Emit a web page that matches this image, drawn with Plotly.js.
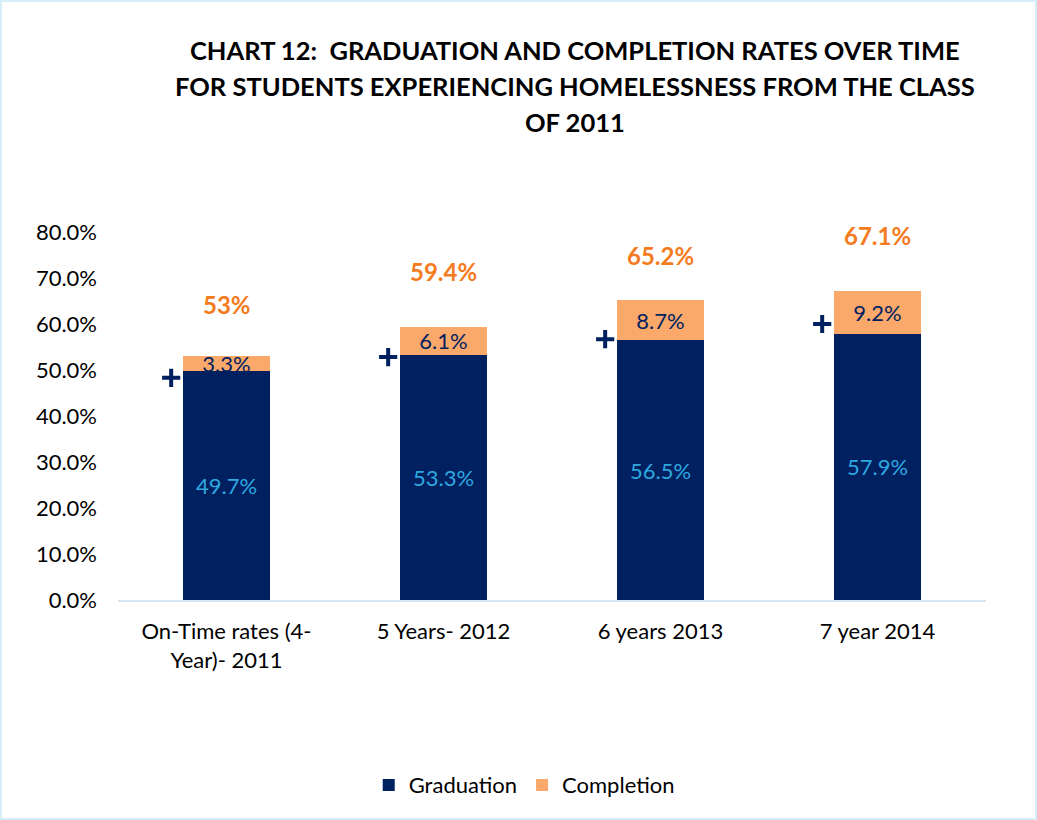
<!DOCTYPE html>
<html>
<head>
<meta charset="utf-8">
<script src="https://cdn.plot.ly/plotly-3.0.1.min.js"></script>
<style>
html,body{margin:0;padding:0;background:#fff;}
#wrap{width:1037px;height:820px;box-sizing:border-box;border:2px solid #d5eef8;}
#chart{width:1033px;height:816px;}
</style>
</head>
<body>
<div id="wrap"><div id="chart"></div></div>
<script>
const categories = ["On-Time rates (4-<br>Year)- 2011", "5 Years- 2012", "6 years 2013", "7 year 2014"];
const graduation = [49.7, 53.3, 56.5, 57.9];
const completion = [3.3, 6.1, 8.7, 9.2];
const totalLabels = ["53%", "59.4%", "65.2%", "67.1%"];
const completionLabels = ["3.3%", "6.1%", "8.7%", "9.2%"];
const graduationLabels = ["49.7%", "53.3%", "56.5%", "57.9%"];
const plusMarks = [48.3, 52.8, 56.7, 60.0];
const yTicks = [0, 10, 20, 30, 40, 50, 60, 70, 80];
const titleLines = [
  "CHART 12:  GRADUATION AND COMPLETION RATES OVER TIME",
  "FOR STUDENTS EXPERIENCING HOMELESSNESS FROM THE CLASS",
  "OF 2011"
];

const xs = categories.map((c, i) => i);
const navy = "#002060";
const orange = "#FAA96A";
const font = "Lato, Open Sans, sans-serif";
const fs = 22;

const traces = [
  {
    type: "bar", name: "Graduation", x: xs, y: graduation,
    marker: {color: navy}, width: 0.4,
    text: graduationLabels, textposition: "inside", insidetextanchor: "middle",
    textfont: {color: "#2fa8e0", size: fs, family: font}, constraintext: "none",
    hoverinfo: "y"
  },
  {
    type: "bar", name: "Completion", x: xs, y: completion,
    marker: {color: orange}, width: 0.4,
    text: completionLabels, textposition: "inside", insidetextanchor: "middle",
    textfont: {color: navy, size: fs, family: font}, constraintext: "none",
    hoverinfo: "y"
  },
  {
    type: "scatter", mode: "markers", showlegend: false, hoverinfo: "skip",
    x: xs.map(v => v - 0.255), y: plusMarks,
    marker: {symbol: "cross-thin", size: 13, line: {width: 4, color: navy}, color: navy}
  }
];

const labelShift = [52, 55, 45, 56];
const annotations = [];
totalLabels.forEach((t, i) => {
  annotations.push({
    x: xs[i], y: graduation[i] + completion[i], xref: "x", yref: "y",
    text: "<b>" + t + "</b>", showarrow: false, yshift: labelShift[i],
    font: {color: "#F47B20", size: 24, family: font}
  });
});
const titleY = [48, 84, 120];
titleLines.forEach((t, i) => {
  annotations.push({
    x: 0.527, y: (598 - titleY[i]) / 368, xref: "paper", yref: "paper",
    text: "<b>" + t + "</b>", showarrow: false, yanchor: "middle", xanchor: "center",
    font: {color: "#000", size: 25.5, family: font}
  });
});

const layout = {
  width: 1033, height: 816,
  margin: {l: 116, r: 49, t: 230, b: 218, pad: 0},
  barmode: "stack",
  paper_bgcolor: "#fff", plot_bgcolor: "#fff",
  showlegend: true,
  legend: {
    orientation: "h", x: 0.468, xanchor: "center", y: -0.503, yanchor: "middle",
    font: {size: fs, family: font, color: "#000"}, traceorder: "normal",
    itemwidth: 30
  },
  xaxis: {
    tickmode: "array", tickvals: xs, ticktext: categories,
    range: [-0.5, 3.5], showgrid: false, zeroline: false,
    showline: true, linecolor: "#d5e6f3", linewidth: 1.5,
    ticks: "", ticklabelstandoff: 11,
    tickfont: {size: fs, family: font, color: "#000"}
  },
  yaxis: {
    range: [0, 80], tickmode: "array", tickvals: yTicks,
    ticktext: yTicks.map(v => v.toFixed(1) + "%"),
    showgrid: false, zeroline: false, showline: false, ticks: "",
    ticklabelstandoff: 20,
    tickfont: {size: fs, family: font, color: "#000"}
  },
  annotations: annotations
};

Plotly.newPlot("chart", traces, layout, {displayModeBar: false, staticPlot: true});
</script>
</body>
</html>
